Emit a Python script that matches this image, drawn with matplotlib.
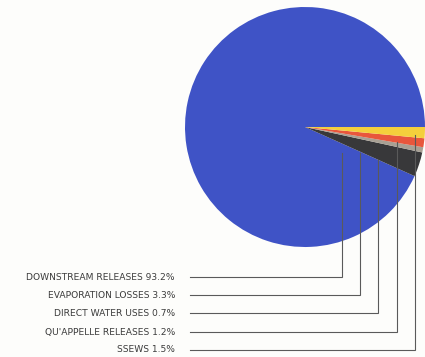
import matplotlib
matplotlib.use("Agg")
import matplotlib.pyplot as plt

labels = ["DOWNSTREAM RELEASES", "EVAPORATION LOSSES", "DIRECT WATER USES",
          "QU'APPELLE RELEASES", "SSEWS"]
values = [93.2, 3.3, 0.7, 1.2, 1.5]
colors = ["#3f53c6", "#38383a", "#a8a094", "#e8563c", "#f4cf3c"]

W, H = 425, 357
fig = plt.figure(figsize=(W / 100, H / 100), dpi=100)
fig.patch.set_facecolor("#fdfdfb")
ax = fig.add_axes([0, 0, 1, 1])

cx, cy, r = 305, H - 127, 120
ax.pie(values, colors=colors, startangle=0, counterclock=True,
       center=(cx, cy), radius=r, frame=True,
       wedgeprops=dict(linewidth=0))
ax.set_xlim(0, W)
ax.set_ylim(0, H)
ax.set_aspect("equal")
ax.axis("off")

# leader lines (layout positions)
line_x = [342, 360, 378, 397, 415]
line_top = [153, 153, 160, 142, 135]
row_y = [277, 295, 313, 332, 350]
for lab, v, lx, lt, ry in zip(labels, values, line_x, line_top, row_y):
    yy = H - ry
    ax.plot([190, lx, lx], [yy, yy, H - lt], color="#5a5a5a", lw=0.8,
            solid_joinstyle="miter")
    ax.text(175, yy, f"{lab} {v:.1f}%", ha="right", va="center",
            fontsize=6.6, color="#3c3c3c", family="DejaVu Sans")

fig.savefig("out.png", dpi=100, facecolor=fig.get_facecolor())
